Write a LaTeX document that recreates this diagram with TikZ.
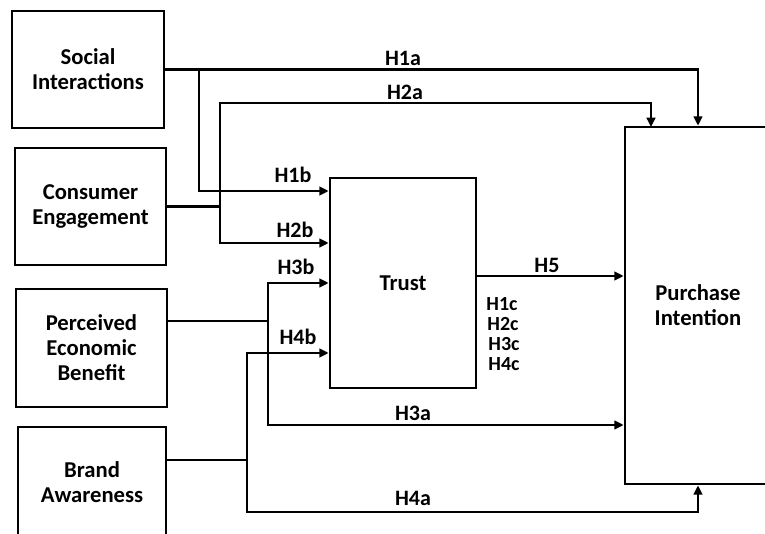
\documentclass[tikz,border=0pt]{standalone}
\usepackage{fontspec}
\setmainfont{Carlito}
\usetikzlibrary{arrows.meta}
\tikzset{
  box/.style={draw,line width=2pt,inner sep=0pt,align=center,
    font=\bfseries\fontsize{17}{18.75}\selectfont},
  wire/.style={line width=2pt},
  link/.style={wire,-{Triangle[length=7pt,width=6.5pt]}},
  hyp/.style={inner sep=0pt,font=\bfseries\fontsize{16.5}{18}\selectfont},
  hypc/.style={hyp,font=\bfseries\fontsize{15}{16}\selectfont}
}
\begin{document}
\begin{tikzpicture}[x=0.75pt,y=-0.75pt]
\useasboundingbox (0,0) rectangle (765,534);
\node[box,minimum width=114pt,minimum height=87.75pt] (si) at (88,69.5) {Social\\Interactions};
\node[box,minimum width=113.25pt,minimum height=87.75pt] (ce) at (90.5,206.5) {Consumer\\Engagement};
\node[box,minimum width=113.25pt,minimum height=88.5pt] (peb) at (91.5,348) {Perceived\\Economic\\Benefit};
\node[box,minimum width=111pt,minimum height=83.25pt] (ba) at (92,482.5) {Brand\\Awareness};
\node[box,minimum width=109.5pt,minimum height=157.5pt] (trust) at (403,283) {Trust};
\node[box,minimum width=109.5pt,minimum height=267.75pt] (pi) at (698,305.5) {Purchase\\Intention};

\coordinate (j1) at (199,69.5);
\coordinate (j2) at (220,206.5);
\coordinate (j3) at (268,321);
\coordinate (j4) at (247,460);
\coordinate (p2) at (651,127);

\draw[link] (si.east) -| (pi.north);
\draw[link] (j1) |- (trust.west |- 0,191);
\draw[wire] (ce.east) -- (j2);
\draw[link] (j2) -- (220,103) -| (p2);
\draw[link] (j2) |- (trust.west |- 0,243);
\draw[wire] (peb.east |- j3) -- (j3);
\draw[link] (j3) |- (trust.west);
\draw[link] (j3) |- (pi.west |- 0,425);
\draw[wire] (ba.east |- j4) -- (j4);
\draw[link] (j4) |- (trust.west |- 0,353);
\draw[link] (j4) -- (247,512) -| (pi.south);
\draw[link] (trust.east |- 0,276) -- (pi.west |- 0,276);

\node[hyp] (h1a) at (403,58) {H1a};
\node[hyp] (h2a) at (405,92) {H2a};
\node[hyp] (h1b) at (293,175) {H1b};
\node[hyp] (h2b) at (295,230) {H2b};
\node[hyp] (h3b) at (296,267) {H3b};
\node[hyp] (h4b) at (298,337) {H4b};
\node[hyp] (h3a) at (413,413) {H3a};
\node[hyp] (h4a) at (413,498) {H4a};
\node[hyp] (h5) at (547,265) {H5};
\node[hypc] (h1c) at (502,304) {H1c};
\node[hypc] (h2c) at (503,324) {H2c};
\node[hypc] (h3c) at (504,344) {H3c};
\node[hypc] (h4c) at (504,364) {H4c};
\end{tikzpicture}
\end{document}
